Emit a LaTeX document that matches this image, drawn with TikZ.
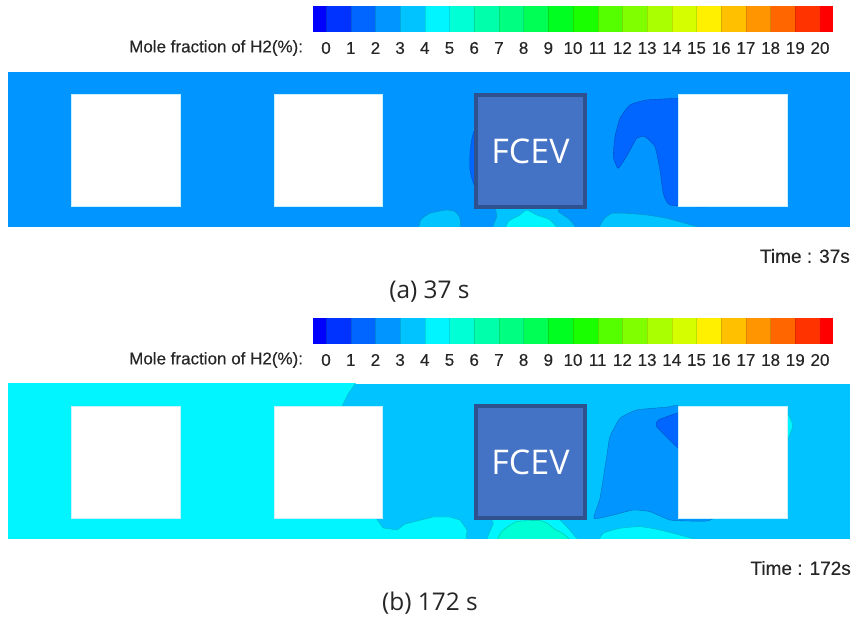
\documentclass[tikz,border=0pt]{standalone}
\usepackage{fontspec}
\setmainfont{Liberation Sans}
\newfontfamily\labfont[FakeBold=0.25]{Liberation Sans}
\newfontfamily\capfont{Open Sans}
\definecolor{c00}{HTML}{0000FF}
\definecolor{c01}{HTML}{0033FF}
\definecolor{c02}{HTML}{0066FF}
\definecolor{c03}{HTML}{0095FF}
\definecolor{c04}{HTML}{00C3FF}
\definecolor{c05}{HTML}{00F5FF}
\definecolor{c06}{HTML}{00FFD5}
\definecolor{c07}{HTML}{00FFAA}
\definecolor{c08}{HTML}{00FF80}
\definecolor{c09}{HTML}{00FF55}
\definecolor{c10}{HTML}{00FF20}
\definecolor{c11}{HTML}{1AFF00}
\definecolor{c12}{HTML}{55FF00}
\definecolor{c13}{HTML}{80FF00}
\definecolor{c14}{HTML}{AAFF00}
\definecolor{c15}{HTML}{D5FF00}
\definecolor{c16}{HTML}{FFF000}
\definecolor{c17}{HTML}{FFC000}
\definecolor{c18}{HTML}{FF9500}
\definecolor{c19}{HTML}{FF6600}
\definecolor{c20}{HTML}{FF3300}
\definecolor{c21}{HTML}{FF0000}
\definecolor{fcevfill}{HTML}{4472C4}
\definecolor{fcevedge}{HTML}{2F528F}
\definecolor{edgelight}{HTML}{C8F0FF}
\tikzset{
  barlabel/.style={font=\labfont\fontsize{17}{19}\selectfont,text=black!85,inner sep=0pt},
  timelabel/.style={font=\labfont\fontsize{19}{21}\selectfont,text=black!85,inner sep=0pt,anchor=east},
  captionlabel/.style={font=\capfont\fontsize{24.4}{28}\selectfont,text=black!85,inner sep=0pt},
  fcevbox/.style={draw=fcevedge,line width=4pt,fill=fcevfill,text=white,inner sep=0pt,
    minimum width=109pt,minimum height=112pt,font=\capfont\fontsize{34}{38}\selectfont},
  hole/.style={fill=white,draw=edgelight,line width=.5pt},
  zoomA/.style={shift={(380,70)},x=.3333pt,y=-.3333pt},
  zoomB/.style={shift={(320,380)},x=.3333pt,y=-.3333pt},
  zoomC/.style={shift={(600,380)},x=.3333pt,y=-.3333pt},
}
\newcommand{\region}[2]{\draw[fill=#1,draw=#1!75!black,line width=.4pt,line join=round] plot[smooth cycle,tension=.3] coordinates {#2};}
\newcommand{\colorbar}[1]{%
  \begin{scope}[shift={(0,#1)}]
    \fill[c00] (313,0) rectangle (326,26);
    \foreach \i [count=\k from 0] in {01,02,03,04,05,06,07,08,09,10,11,12,13,14,15,16,17,18,19,20}{
      \fill[c\i] ({326+24.7*\k},0) rectangle ({326+24.7*(\k+1)+.2},26);
      \draw[black,opacity=.12,line width=.4pt] ({326+24.7*\k},0) -- ({326+24.7*\k},26);
    }
    \fill[c21] (820,0) rectangle (833,26);
    \node[barlabel,anchor=west] (molelabel#1) at (129,42) {Mole fraction of H2(\%):};
    \foreach \v in {0,...,20}{
      \node[barlabel] (tick#1v\v) at ({326+24.7*\v},42) {\v};
    }
  \end{scope}}
\begin{document}
\begin{tikzpicture}[x=1pt,y=-1pt]
\useasboundingbox (0,0) rectangle (852,617);
\fill[white] (0,0) rectangle (852,617);

\colorbar{6}
\colorbar{318}

% ---------- panel (a)
\begin{scope}
  \clip (8,72) rectangle (850,227);
  \fill[c03] (8,72) rectangle (850,227);
  \begin{scope}[zoomA]
    \region{c02}{(950,84) (895,85) (800,90) (750,105) (720,145) (705,200) (700,260) (715,295) (745,250) (770,205) (795,200) (825,230) (840,300) (850,370) (870,405) (975,411) (985,400) (950,380)}
    \region{c02}{(285,180) (275,210) (270,250) (270,300) (285,350) (330,360) (330,180)}
    \region{c04}{(120,490) (122,450) (150,430) (200,420) (225,425) (240,445) (235,490)}
    \region{c04}{(355,400) (350,440) (345,490) (585,490) (570,450) (535,425) (530,400)}
    \region{c05}{(380,490) (385,455) (420,435) (440,420) (470,435) (510,450) (535,490)}
    \region{c04}{(668,490) (670,450) (695,430) (740,430) (800,435) (860,445) (950,470) (980,490)}
  \end{scope}
\end{scope}
\foreach \xa/\xb/\nm in {71/180/a1,274/382/a2,678/787/a3}{
  \draw[hole] (\xa,94.5) rectangle (\xb,206.5);
}
\node[fcevbox] (fcevA) at (530.5,151) {FCEV};
\node[timelabel] (timeA) at (850,256) {Time : 37s};
\node[captionlabel] (capA) at (429.5,292) {(a) 37 s};

% ---------- panel (b)
\begin{scope}
  \clip (8,384) rectangle (850,538.5);
  \fill[c04] (8,384) rectangle (850,539);
  \draw[fill=c05,draw=c05!75!black,line width=.4pt,line join=round]
    (0,370) -- (362,370) -- (355,384) -- (348,394) -- (342,406) -- (350,480) -- (376,518) -- (383,528) -- (397,530) -- (405,524) -- (433,517)
    -- (450,517) -- (460,520) -- (467,530) -- (465,550) -- (0,550) -- cycle;
  \begin{scope}[zoomB]
    \region{c05}{(515,400) (520,430) (510,490) (775,490) (765,470) (745,445) (720,420) (720,400)}
    \region{c06}{(540,490) (545,455) (590,425) (660,422) (685,432) (700,445) (730,462) (750,490)}
    \region{c05}{(850,490) (850,460) (900,445) (960,440) (1020,450) (1115,475) (1140,490)}
  \end{scope}
  \begin{scope}[zoomC]
    \region{c03}{(240,85) (200,82) (110,90) (60,115) (30,170) (20,230) (0,355) (-18,415) (40,405) (100,390) (150,395) (210,420) (260,423) (320,423) (340,415) (340,390) (240,300)}
    \region{c02}{(260,95) (235,98) (175,120) (170,140) (235,205) (260,215)}
    \region{c05}{(540,90) (560,95) (575,125) (578,140) (565,175) (555,195) (540,195)}
  \end{scope}
\end{scope}
\foreach \xa/\xb/\nm in {71/180/b1,274/382/b2,678/787/b3}{
  \draw[hole] (\xa,406) rectangle (\xb,518);
}
\node[fcevbox] (fcevB) at (530.5,462.5) {FCEV};
\node[timelabel] (timeB) at (851,568) {Time : 172s};
\node[captionlabel] (capB) at (430,603) {(b) 172 s};
\end{tikzpicture}
\end{document}
